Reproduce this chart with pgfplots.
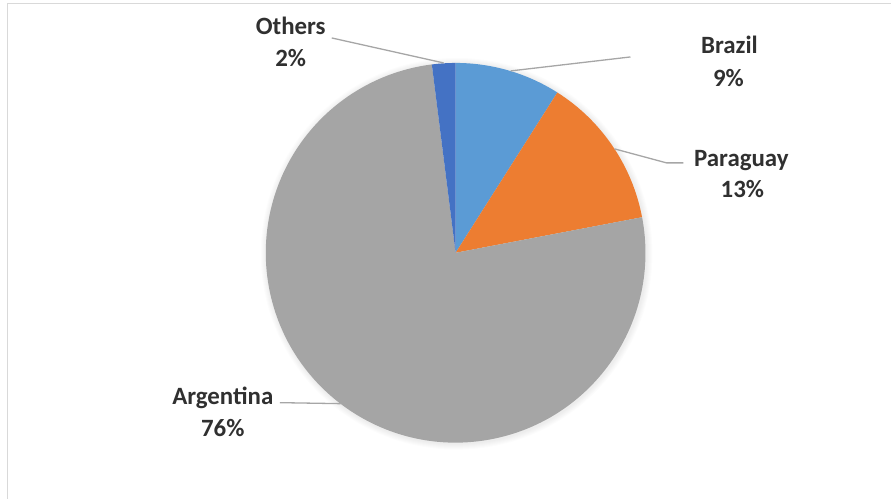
\documentclass[border=0pt]{standalone}
\usepackage{pgfplots}
\pgfplotsset{compat=1.18}
\usepackage{fontspec}
\setmainfont{Carlito}
\definecolor{cBrazil}{HTML}{5B9BD5}
\definecolor{cParaguay}{HTML}{ED7D31}
\definecolor{cArgentina}{HTML}{A5A5A5}
\definecolor{cOthers}{HTML}{4472C4}
\definecolor{lbl}{HTML}{303030}
\definecolor{leader}{HTML}{A6A6A6}
\definecolor{frame}{HTML}{D9D9D9}
\tikzset{lab/.style={font=\fontsize{25}{30}\selectfont\bfseries, text=lbl, inner sep=0pt, anchor=base}}
% shares (percent), clockwise from 12 o'clock
\def\vBrazil{9}
\def\vParaguay{13}
\def\vArgentina{76}
\def\vOthers{2}
\pgfmathsetmacro{\aBrazil}{90}
\pgfmathsetmacro{\aParaguay}{\aBrazil-3.6*\vBrazil}
\pgfmathsetmacro{\aArgentina}{\aParaguay-3.6*\vParaguay}
\pgfmathsetmacro{\aOthers}{\aArgentina-3.6*\vArgentina}
\def\cx{456}
\def\cy{246}
\def\R{190}
\newcommand{\slice}[3]{%
  \fill[#3] (axis cs:\cx,\cy) -- (axis cs:{\cx+\R*cos(#1)},{\cy+\R*sin(#1)})
    arc[start angle=#1, delta angle={-3.6*#2}, radius=\R bp] -- cycle;}
\begin{document}
\begin{tikzpicture}
\begin{axis}[x=1bp, y=1bp, xmin=0, xmax=892, ymin=0, ymax=499,
  hide axis, clip=false, scale only axis]
\path (axis cs:0,0) rectangle (axis cs:892,499);
% frame
\draw[frame, line width=1.5bp] (axis cs:7.5,0) -- (axis cs:7.5,495.5) -- (axis cs:892,495.5);
% soft shadow
\pgfplotsinvokeforeach{191,192,193,194,195,196}{
  \fill[black, opacity=0.012] (axis cs:\cx+1,\cy-1) circle[radius=#1bp];
}
\slice{\aBrazil}{\vBrazil}{cBrazil}
\slice{\aParaguay}{\vParaguay}{cParaguay}
\slice{\aArgentina}{\vArgentina}{cArgentina}
\slice{\aOthers}{\vOthers}{cOthers}
% leader lines
\draw[leader, line width=1.3bp] (axis cs:332,461) -- (axis cs:444,436);
\draw[leader, line width=1.3bp] (axis cs:511,428) -- (axis cs:631,442);
\draw[leader, line width=1.3bp] (axis cs:615,350) -- (axis cs:667,336) -- (axis cs:684,336);
\draw[leader, line width=1.3bp] (axis cs:280,96) -- (axis cs:341,95);
% labels
\node[lab] at (axis cs:291,464) {Others};
\node[lab] at (axis cs:291,432) {2\%};
\node[lab] at (axis cs:730,445) {Brazil};
\node[lab] at (axis cs:729,412) {9\%};
\node[lab] at (axis cs:742,332) {Paraguay};
\node[lab] at (axis cs:743,301) {13\%};
\node[lab] at (axis cs:223,94) {Argentina};
\node[lab] at (axis cs:223,62) {76\%};
\end{axis}
\end{tikzpicture}
\end{document}
